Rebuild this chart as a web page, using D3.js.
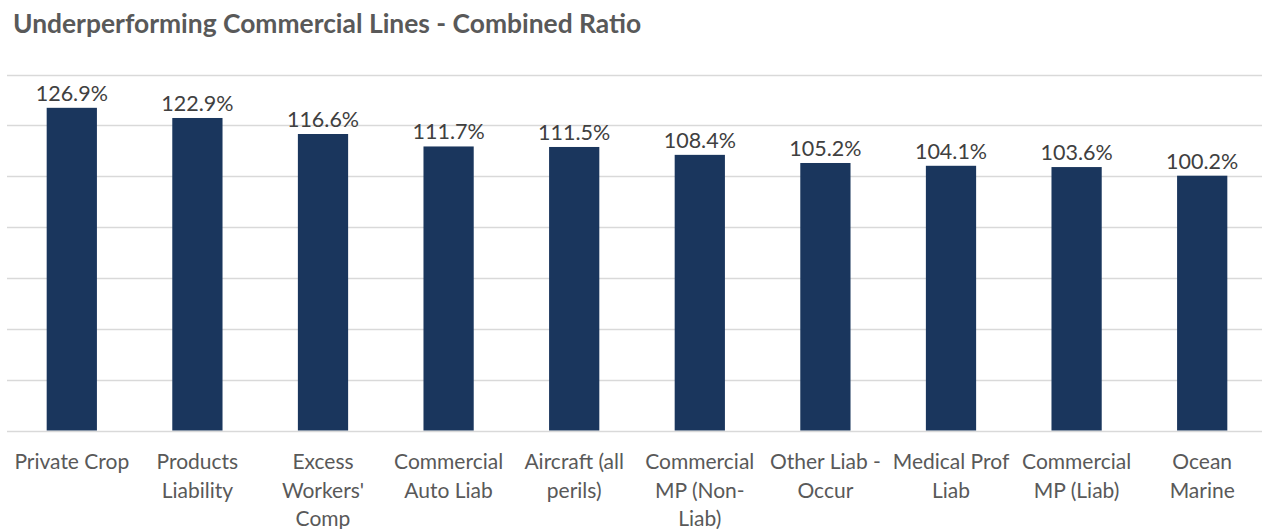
<!DOCTYPE html>
<html>
<head>
<meta charset="utf-8">
<script src="https://cdn.jsdelivr.net/npm/d3@7"></script>
<style>
  body { margin: 0; background: #fff; }
  svg text { font-family: Lato, "Open Sans", sans-serif; }
</style>
</head>
<body>
<div class="d3-wrapper"></div>
<script>
const categories = [
  'Private Crop', 'Products\nLiability', "Excess\nWorkers'\nComp", 'Commercial\nAuto Liab',
  'Aircraft (all\nperils)', 'Commercial\nMP (Non-\nLiab)', 'Other Liab -\nOccur',
  'Medical Prof\nLiab', 'Commercial\nMP (Liab)', 'Ocean\nMarine'
];
const ratios = [126.9, 122.9, 116.6, 111.7, 111.5, 108.4, 105.2, 104.1, 103.6, 100.2];
const gridTicks = [0, 20, 40, 60, 80, 100, 120, 140];

const WIDTH = 1262, HEIGHT = 529;
const PLOT = { left: 9, right: 1265, top: 74.5, bottom: 430.5 };

const xScale = d3.scaleBand()
  .domain(categories)
  .range([PLOT.left, PLOT.right])
  .paddingInner(0.6)
  .paddingOuter(0.3);

const yScale = d3.scaleLinear()
  .domain([0, 140])
  .range([PLOT.bottom, PLOT.top]);

const svg = d3.select('.d3-wrapper').append('svg')
  .attr('width', WIDTH)
  .attr('height', HEIGHT);

svg.append('text')
  .attr('x', 13)
  .attr('y', 33)
  .style('font-size', '26.4px')
  .style('font-weight', 'bold')
  .style('fill', '#595959')
  .text('Underperforming Commercial Lines - Combined Ratio');

// gridlines
svg.append('g')
  .selectAll('line')
  .data(gridTicks)
  .enter()
  .append('line')
  .attr('x1', 7)
  .attr('x2', WIDTH)
  .attr('y1', d => Math.round(yScale(d)) + 0.5)
  .attr('y2', d => Math.round(yScale(d)) + 0.5)
  .style('stroke', '#d9d9d9')
  .style('stroke-width', 1.5);

svg.append('g')
  .selectAll('rect')
  .data(ratios)
  .enter()
  .append('rect')
  .attr('x', (d, i) => xScale(categories[i]))
  .attr('y', d => yScale(d))
  .attr('width', xScale.bandwidth())
  .attr('height', d => yScale(0) - yScale(d))
  .style('fill', '#1a365d');

svg.append('g')
  .selectAll('text')
  .data(ratios)
  .enter()
  .append('text')
  .attr('x', (d, i) => xScale(categories[i]) + xScale.bandwidth() / 2)
  .attr('y', d => yScale(d) - 7)
  .attr('text-anchor', 'middle')
  .style('font-size', '21.5px')
  .style('fill', '#404040')
  .text(d => d.toFixed(1) + '%');

const labels = svg.append('g')
  .selectAll('text')
  .data(categories)
  .enter()
  .append('text')
  .attr('text-anchor', 'middle')
  .style('font-size', '21px')
  .style('fill', '#595959');

labels.selectAll('tspan')
  .data(d => d.split('\n').map(line => ({ line, cat: d })))
  .enter()
  .append('tspan')
  .attr('x', d => xScale(d.cat) + xScale.bandwidth() / 2)
  .attr('y', (d, i) => 469 + i * 28.5)
  .text(d => d.line);
</script>
</body>
</html>
